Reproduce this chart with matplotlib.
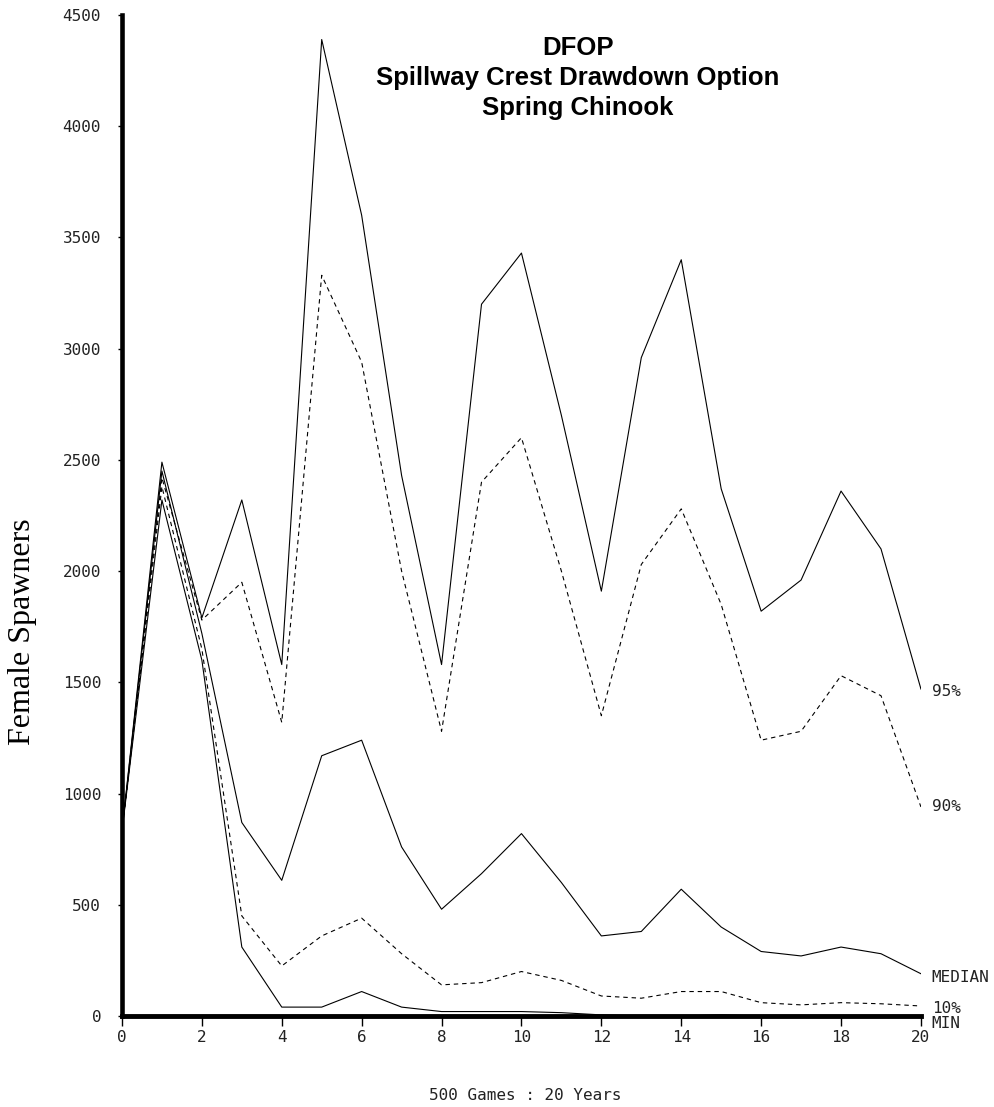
import matplotlib
matplotlib.use("Agg")
import matplotlib.pyplot as plt

years = list(range(21))
p95 = [830, 2490, 1790, 2320, 1580, 4390, 3600, 2430, 1580, 3200, 3430,
       2700, 1910, 2960, 3400, 2370, 1820, 1960, 2360, 2100, 1470]
p90 = [830, 2420, 1780, 1950, 1320, 3330, 2940, 2000, 1280, 2400, 2600,
       2000, 1350, 2030, 2280, 1850, 1240, 1280, 1530, 1440, 940]
median = [830, 2450, 1720, 870, 610, 1170, 1240, 760, 480, 640, 820,
          600, 360, 380, 570, 400, 290, 270, 310, 280, 190]
p10 = [830, 2380, 1650, 450, 225, 360, 440, 280, 140, 150, 200,
       160, 90, 80, 110, 110, 60, 50, 60, 55, 45]
pmin = [830, 2320, 1600, 310, 40, 40, 110, 40, 20, 20, 20,
        15, 5, 0, 0, 5, 0, 0, 0, 0, 0]

series = [
    (p95, "-", "95%"),
    (p90, "--", "90%"),
    (median, "-", "MEDIAN"),
    (p10, "--", "10%"),
    (pmin, "-", "MIN"),
]
label_offsets = {"95%": -10, "90%": 0, "MEDIAN": -15, "10%": -10, "MIN": -32}

xticks = list(range(0, 21, 2))
yticks = list(range(0, 4501, 500))

fig = plt.figure(figsize=(9.94, 11.07), dpi=100)
ax = fig.add_axes([0.1227, 0.0822, 0.8038, 0.9042])

for vals, ls, lab in series:
    if ls == "--":
        ax.plot(years, vals, color="black", lw=0.8, linestyle=(0, (4, 3.5)))
    else:
        ax.plot(years, vals, color="black", lw=0.8)
    ax.text(20.27, vals[-1] + label_offsets[lab], lab, fontsize=11.5,
            family="DejaVu Sans Mono", va="center", ha="left", color="#222222")

ax.set_xlim(0, 20)
ax.set_ylim(0, 4500)
ax.set_xticks(xticks)
ax.set_yticks(yticks)
ax.tick_params(axis="x", labelsize=11.5, length=7, width=1, pad=3,
               colors="black", labelcolor="#222222")
ax.tick_params(axis="y", labelsize=11.5, length=3, width=1, pad=12,
               colors="black", labelcolor="#222222")
for lab in ax.get_xticklabels() + ax.get_yticklabels():
    lab.set_family("DejaVu Sans Mono")

ax.spines["top"].set_visible(False)
ax.spines["right"].set_visible(False)
ax.spines["left"].set_linewidth(3.3)
ax.spines["bottom"].set_linewidth(3.5)

ax.text(11.41, 4405,
        "DFOP\nSpillway Crest Drawdown Option\nSpring Chinook",
        ha="center", va="top", fontsize=18.5, fontweight="bold",
        family="Liberation Sans", linespacing=1.3)

fig.text(23 / 994, 1 - 632 / 1107, "Female Spawners", family="Liberation Serif",
         fontsize=23, rotation=90, ha="center", va="center")
fig.text(525 / 994, 1 - 1096 / 1107, "500 Games : 20 Years", family="DejaVu Sans Mono",
         fontsize=11.5, ha="center", va="center", color="#222222")

fig.savefig("out.png", dpi=100, facecolor="white")
